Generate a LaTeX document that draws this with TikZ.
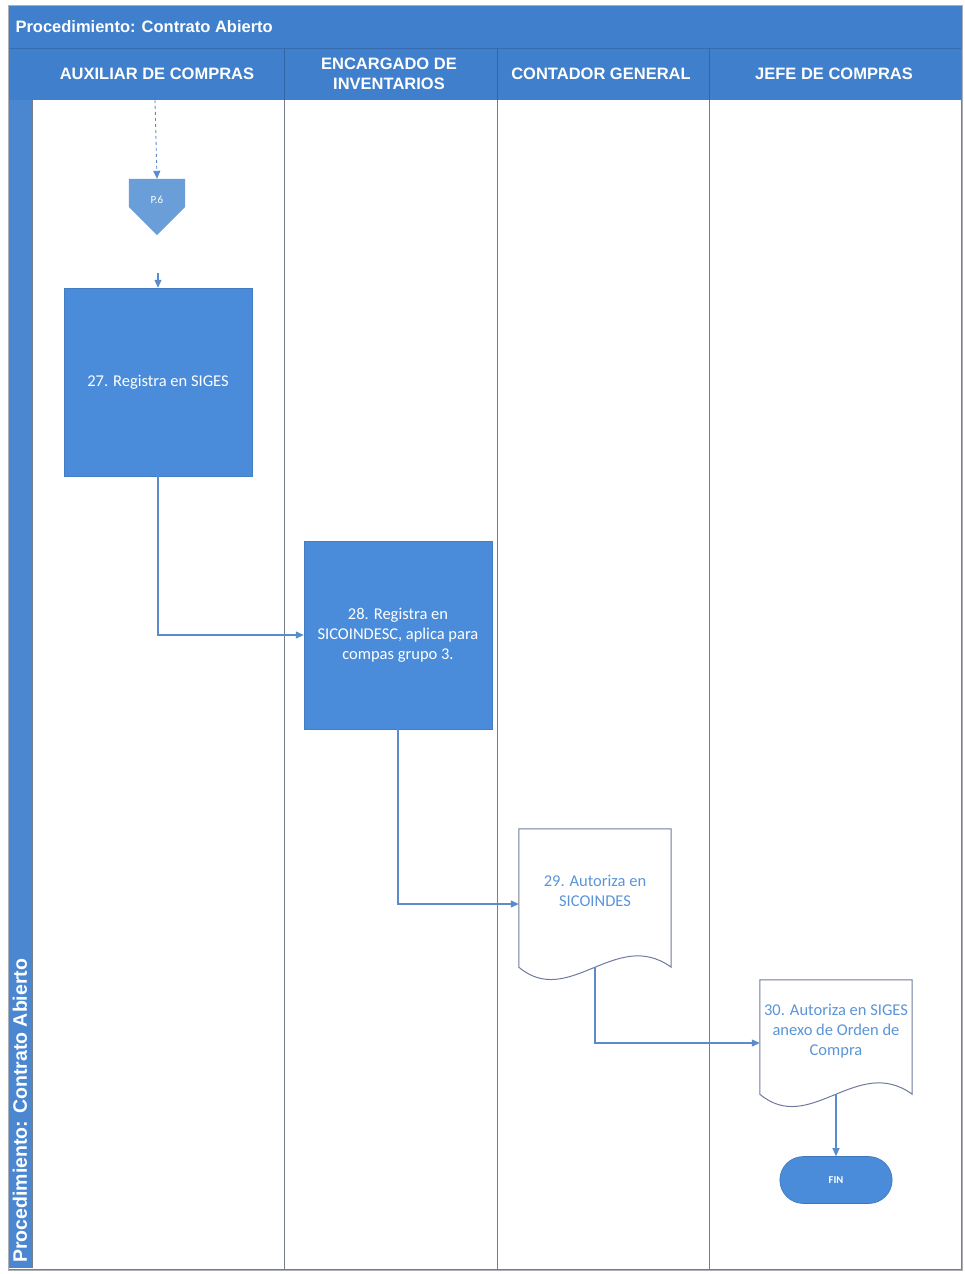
\documentclass[tikz,border=0pt]{standalone}
\usepackage{fontspec}
\setmainfont{Carlito}
\newfontfamily\hdrfont{Liberation Sans}
\usetikzlibrary{arrows.meta,shapes.misc,calc}
\definecolor{hdrblue}{HTML}{3F7FCB}
\definecolor{bandblue}{HTML}{4A87D0}
\definecolor{boxblue}{HTML}{4A8CD9}
\definecolor{lightblue}{HTML}{6A9ED8}
\definecolor{lineblue}{HTML}{5A8CCB}
\definecolor{lanegray}{HTML}{767C8A}
\definecolor{doctext}{HTML}{5B95D8}
\definecolor{docline}{HTML}{6F7B9C}
\tikzset{
  hdrtext/.style={text=white,font=\hdrfont\bfseries\fontsize{16.5}{18}\selectfont,align=center},
  lane/.style={draw=lanegray,line width=0.9pt},
  procbox/.style={rectangle,fill=boxblue,draw=boxblue!90!black,line width=0.4pt,minimum width=188pt,minimum height=188pt,text=white,align=center,font=\fontsize{16.5}{20}\selectfont,inner sep=2pt},
  docnode/.style={rectangle,minimum width=152pt,inner sep=0pt},
  doctextstyle/.style={text=doctext,align=center,font=\fontsize{16.5}{20}\selectfont,inner sep=0pt},
  docshape/.style={draw=docline,line width=1pt},
  conn/.style={draw=lineblue,line width=1.1pt,-{Triangle[length=8pt,width=7pt]}},
  endnode/.style={rounded rectangle,fill=boxblue,draw=boxblue!85!black,line width=0.6pt,minimum width=119pt,minimum height=47pt,text=white,font=\fontsize{10.5}{12}\selectfont\bfseries},
}
\begin{document}
\begin{tikzpicture}[x=1pt,y=-1pt]
\useasboundingbox (0,0) rectangle (964,1274);
\fill[white] (0,0) rectangle (964,1274);
% header & band
\fill[hdrblue] (8,5) rectangle (962,100);
\fill[bandblue] (8,100) rectangle (32,1268);
\draw[hdrblue!85!black,line width=0.5pt] (8,48) -- (962,48);
\foreach \x in {284,497,709} \draw[hdrblue!80!black,line width=0.5pt] (\x,48) -- (\x,100);
% lanes
\draw[lane] (32,100) -- (32,1268);
\foreach \x in {284,497,709} \draw[lane] (\x,100) -- (\x,1270);
\draw[lane] (961,48) -- (961,1270);
\draw[lane] (8,1269) -- (961,1269);
\draw[lanegray!60,line width=0.5pt] (8,5) rectangle (962,1270);
% titles
\node[hdrtext,anchor=west] (title) at (12,27) {Procedimiento: Contrato Abierto};
\node[hdrtext] (h1) at (157,74) {AUXILIAR DE COMPRAS};
\node[hdrtext,font=\hdrfont\bfseries\fontsize{16.5}{20}\selectfont] (h2) at (389,74) {ENCARGADO DE\\INVENTARIOS};
\node[hdrtext] (h3) at (601,74) {CONTADOR GENERAL};
\node[hdrtext] (h4) at (834,74) {JEFE DE COMPRAS};
\node[hdrtext,font=\hdrfont\bfseries\fontsize{19.5}{22}\selectfont,rotate=90,anchor=west,inner sep=0pt] (side) at (20,1263) {Procedimiento: Contrato Abierto};
% off-page connector P.6
\node[rectangle,minimum width=56pt,minimum height=56pt,inner sep=0pt] (p6) at (157,207) {};
\fill[lightblue] (p6.north west) -- (p6.north east) -- (p6.east) -- (p6.south) -- (p6.west) -- cycle;
\node[text=white,font=\fontsize{11}{12}\selectfont,inner sep=0pt] (p6t) at (157,200) {P.6};
\coordinate (start) at (155,100);
\draw[conn,dashed,line width=0.9pt] (start) -- (p6.north);
% boxes
\node[procbox] (b27) at (158,382) {27. Registra en SIGES};
\coordinate (in27) at (158,273);
\draw[conn] (in27) -- (b27.north);
\node[procbox] (b28) at (398,635) {28. Registra en\\SICOINDESC, aplica para\\compas grupo 3.};
% documents
\node[docnode,minimum height=138pt] (d29) at (595,898) {};
\path[docshape] (d29.north west) -- (d29.north east) -- (d29.south east)
  .. controls ($(d29.south east)+(-55,-40)$) and ($(d29.south west)+(50,42)$) .. (d29.south west) -- cycle;
\node[doctextstyle] (t29) at ([yshift=7pt]d29.center) {29. Autoriza en\\SICOINDES};
\node[docnode,minimum height=114pt] (d30) at (836,1037) {};
\path[docshape] (d30.north west) -- (d30.north east) -- (d30.south east)
  .. controls ($(d30.south east)+(-55,-40)$) and ($(d30.south west)+(50,42)$) .. (d30.south west) -- cycle;
\node[doctextstyle] (t30) at ([yshift=6pt]d30.center) {30. Autoriza en SIGES\\anexo de Orden de\\Compra};
\node[endnode] (fin) at (836,1180) {FIN};
% connectors
\draw[conn] (b27.south) |- (b28.west);
\draw[conn] (b28.south) |- ([yshift=-6pt]d29.west);
\draw[conn] (d29.south) |- ([yshift=-6pt]d30.west);
\draw[conn] (d30.south) -- (fin.north);
\end{tikzpicture}
\end{document}
